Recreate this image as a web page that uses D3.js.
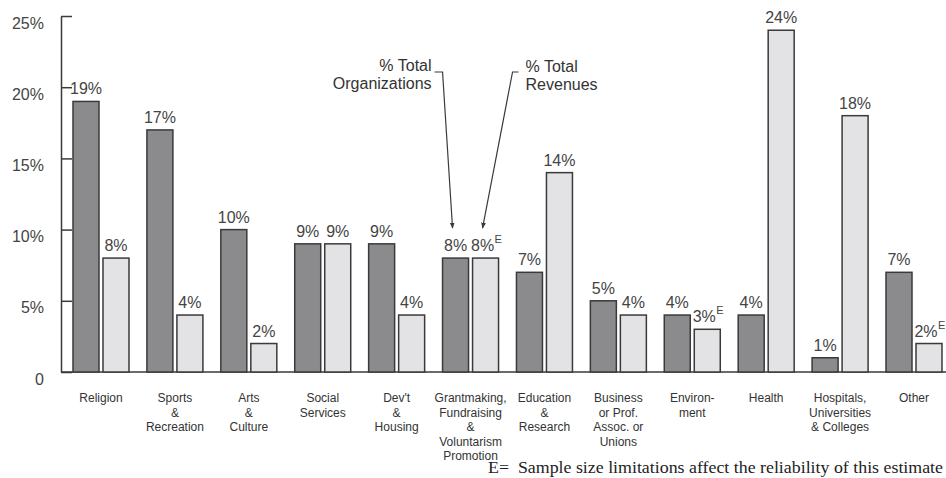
<!DOCTYPE html>
<html>
<head>
<meta charset="utf-8">
<script src="https://cdn.jsdelivr.net/npm/d3@7"></script>
<style>
  body { margin: 0; background: #fff; }
  svg { display: block; font-family: "Liberation Sans", Arial, sans-serif; }
</style>
</head>
<body>
<svg id="chart" width="946" height="478"></svg>
<script>
/* ===========================================================
   Organizations vs revenues by sub-sector
   =========================================================== */

const categories = [
  'Religion', 'Sports\n&\nRecreation', 'Arts\n&\nCulture', 'Social\nServices',
  "Dev't\n&\nHousing", 'Grantmaking,\nFundraising\n&\nVoluntarism\nPromotion',
  'Education\n&\nResearch', 'Business\nor Prof.\nAssoc. or\nUnions',
  'Environ-\nment', 'Health', 'Hospitals,\nUniversities\n& Colleges', 'Other'
];
const orgShare = [19, 17, 10, 9, 9, 8, 7, 5, 4, 4, 1, 7];
const revShare = [8, 4, 2, 9, 4, 8, 14, 4, 3, 24, 18, 2];
// revenue estimates flagged with "E"
const revFlagged = ['Grantmaking,\nFundraising\n&\nVoluntarism\nPromotion', 'Environ-\nment', 'Other'];
const yTicks = [0, 5, 10, 15, 20, 25];
const seriesKeys = ['org', 'rev'];
const seriesNames = ['% Total\nOrganizations', '% Total\nRevenues'];

const COLORS = { org: '#8b8b8d', rev: '#e3e3e5' };
const INK = '#3a3a3a';

const svg = d3.select('#chart');

const y = d3.scaleLinear().domain([0, 25]).range([372, 16]);
const x0 = d3.scaleBand().domain(categories).range([73, 942])
  .paddingInner(0.2423).paddingOuter(0);
const x1 = d3.scaleBand().domain(seriesKeys).range([0, x0.bandwidth()])
  .paddingInner(0.1333);

const rows = categories.map((c, i) => ({
  cat: c, org: orgShare[i], rev: revShare[i], flag: revFlagged.includes(c)
}));

// baseline
svg.append('line')
  .attr('x1', 61).attr('x2', 946)
  .attr('y1', y(0)).attr('y2', y(0))
  .attr('stroke', INK).attr('stroke-width', 1.5);

// y axis
const yAxis = svg.append('g')
  .attr('transform', 'translate(61,0)')
  .call(d3.axisLeft(y).tickValues(yTicks).tickSize(-11).tickSizeOuter(0)
    .tickPadding(17).tickFormat(d => d === 0 ? '0' : d + '%'));
yAxis.select('.domain').attr('stroke', INK).attr('stroke-width', 1.5);
yAxis.selectAll('.tick line').attr('stroke', INK).attr('stroke-width', 1.5);
yAxis.selectAll('.tick text')
  .attr('font-size', 16).attr('fill', '#444').attr('dy', '0.76em')
  .attr('font-family', '"Liberation Sans", Arial, sans-serif');

// bars
const groups = svg.selectAll('.grp').data(rows).enter().append('g')
  .attr('class', 'grp')
  .attr('transform', d => `translate(${x0(d.cat)},0)`);

seriesKeys.forEach(key => {
  groups.append('rect')
    .attr('x', x1(key))
    .attr('width', x1.bandwidth())
    .attr('y', d => y(d[key]))
    .attr('height', d => y(0) - y(d[key]))
    .attr('fill', COLORS[key])
    .attr('stroke', INK)
    .attr('stroke-width', 1.5);

  groups.append('text')
    .attr('class', 'val-' + key)
    .attr('x', d => x1(key) + x1.bandwidth() / 2 - (key === 'rev' && d.flag ? 3 : 0))
    .attr('y', d => y(d[key]) - 7)
    .attr('text-anchor', 'middle')
    .attr('font-size', 16)
    .attr('fill', '#444')
    .text(d => d[key] + '%');
});

// "E" superscripts on flagged revenue labels
groups.filter(d => d.flag).each(function(d) {
  const g = d3.select(this);
  const t = g.select('.val-rev');
  const w = t.node().getComputedTextLength();
  g.append('text')
    .attr('x', x1('rev') + x1.bandwidth() / 2 - 3 + w / 2 + 0.5)
    .attr('y', y(d.rev) - 15)
    .attr('font-size', 11)
    .attr('fill', '#444')
    .text('E');
});

// category labels
groups.append('text')
  .attr('text-anchor', 'middle')
  .attr('font-size', 12)
  .attr('fill', '#333')
  .selectAll('tspan')
  .data(d => d.cat.split('\n'))
  .enter().append('tspan')
    .attr('x', x0.bandwidth() / 2)
    .attr('y', (d, i) => 402 + i * 14.5)
    .text(d => d);

// series call-outs pointing at the grantmaking pair
const callCat = categories[5];
svg.append('defs').append('marker')
  .attr('id', 'tip')
  .attr('viewBox', '0 0 10 10')
  .attr('refX', 9).attr('refY', 5)
  .attr('markerWidth', 5).attr('markerHeight', 5)
  .attr('orient', 'auto')
  .append('path').attr('d', 'M0,1L10,5L0,9Z').attr('fill', INK);

const tipY = y(8) - 30;
const orgTip = x0(callCat) + x1('org') + x1.bandwidth() / 2 - 3;
const revTip = x0(callCat) + x1('rev') + x1.bandwidth() / 2 - 3;

svg.append('path')
  .attr('d', d3.line()([[orgTip - 18, 72], [orgTip - 10, 72], [orgTip, tipY]]))
  .attr('fill', 'none').attr('stroke', INK).attr('stroke-width', 1.2)
  .attr('marker-end', 'url(#tip)');
svg.append('path')
  .attr('d', d3.line()([[revTip + 36, 72], [revTip + 30, 72], [revTip, tipY]]))
  .attr('fill', 'none').attr('stroke', INK).attr('stroke-width', 1.2)
  .attr('marker-end', 'url(#tip)');

const orgLbl = svg.append('text')
  .attr('text-anchor', 'end').attr('font-size', 16).attr('fill', '#333');
orgLbl.selectAll('tspan').data(seriesNames[0].split('\n')).enter().append('tspan')
  .attr('x', orgTip - 21).attr('y', (d, i) => 71 + i * 18).text(d => d);

const revLbl = svg.append('text')
  .attr('text-anchor', 'start').attr('font-size', 16).attr('fill', '#333');
revLbl.selectAll('tspan').data(seriesNames[1].split('\n')).enter().append('tspan')
  .attr('x', revTip + 43).attr('y', (d, i) => 72 + i * 18).text(d => d);

// footnote
svg.append('text')
  .attr('x', 488).attr('y', 473)
  .attr('font-family', '"Liberation Serif", "DejaVu Serif", serif')
  .attr('font-size', 17)
  .attr('fill', '#222')
  .attr('textLength', 455)
  .attr('lengthAdjust', 'spacingAndGlyphs')
  .style('white-space', 'pre')
  .text('E=  Sample size limitations affect the reliability of this estimate');
</script>
</body>
</html>
